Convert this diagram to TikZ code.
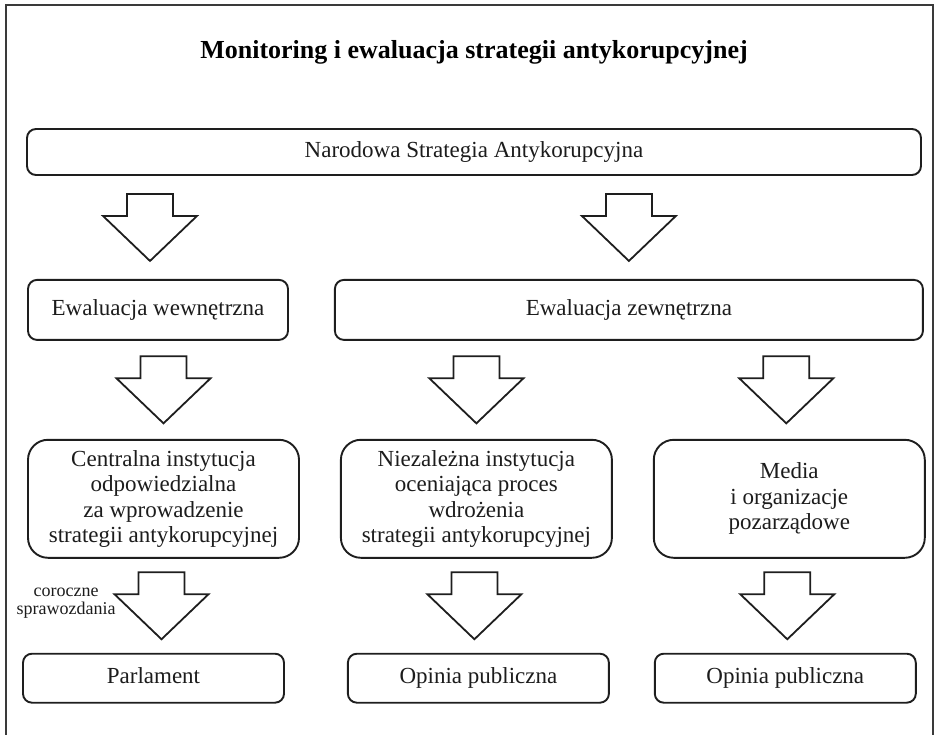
\documentclass[tikz,border=0pt]{standalone}
\usepackage{fontspec}
\setmainfont{Liberation Serif}
\usepackage{tikz}
\usetikzlibrary{positioning,calc}
\definecolor{ink}{HTML}{1C1C1C}
\definecolor{edge}{HTML}{1E1E1E}
\definecolor{framec}{HTML}{3A3A3A}
\tikzset{
  box/.style={draw=edge,fill=white,rounded corners=9pt,line width=1.9pt,align=center,
    font=\fontsize{23}{25.5}\selectfont,text=ink,inner sep=2pt},
  onebox/.style={box,text height=16pt,text depth=5pt},
  bigbox/.style={box,rounded corners=20pt},
  lbl/.style={font=\fontsize{18}{18}\selectfont,text=ink,align=center},
  ttl/.style={font=\fontsize{26}{28}\selectfont\bfseries,text=black},
  barrow/.style={draw=edge,fill=white,line width=1.8pt,line join=miter},
  frame/.style={draw=framec,line width=2.6pt},
  blockarrow/.pic={\draw[barrow] (-23,-33.5) -- (23,-33.5) -- (23,-11.5) -- (47,-11.5)
    -- (0,33.5) -- (-47,-11.5) -- (-23,-11.5) -- cycle;}
}
\begin{document}
\begin{tikzpicture}[x=1pt,y=-1pt]
  \useasboundingbox (0,0) rectangle (935,735);
  \draw[frame] (6,745) -- (6,5) -- (933,5) -- (933,745);
  \node[ttl,anchor=base] (title) at (474,59) {Monitoring i ewaluacja strategii antykorupcyjnej};
  \node[onebox,minimum width=894pt,minimum height=46pt] (nsa) at (474,152) {Narodowa Strategia Antykorupcyjna};
  \node[onebox,minimum width=260pt,minimum height=60pt,below right=103pt and 1pt of nsa.south west] (eww) {Ewaluacja wewnętrzna};
  \node[onebox,minimum width=588pt,minimum height=60pt,right=45pt of eww] (ewz) {Ewaluacja zewnętrzna};
  \node[bigbox,minimum width=271pt,minimum height=118pt,below right=98pt and 0pt of eww.south west] (cen)
    {Centralna instytucja\\odpowiedzialna\\za wprowadzenie\\strategii antykorupcyjnej};
  \node[bigbox,minimum width=271pt,minimum height=118pt,right=40pt of cen] (nie)
    {Niezależna instytucja\\oceniająca proces\\wdrożenia\\strategii antykorupcyjnej};
  \node[bigbox,minimum width=271pt,minimum height=118pt,right=40pt of nie] (med)
    {Media\\i organizacje\\pozarządowe};
  \node[onebox,minimum width=261pt,minimum height=49pt,below right=94pt and -5pt of cen.south west] (par) {Parlament};
  \node[onebox,minimum width=261pt,minimum height=49pt,right=62pt of par] (opn) {Opinia publiczna};
  \node[onebox,minimum width=261pt,minimum height=49pt,right=44pt of opn] (opm) {Opinia publiczna};
  \foreach \s/\d/\dx in {nsa/eww/-8,nsa/ewz/0,eww/cen/0,ewz/nie/0,ewz/med/-3}
    \pic at ($(\d.north)!.5!(\d.north |- \s.south)+(\dx,0)$) {blockarrow};
  \foreach \s/\d in {cen/par,nie/opn,med/opm}
    \pic at ($(\s.south)!.5!(\s.south |- \d.north)+(-2,0)$) {blockarrow};
  \node[lbl] (rep) at ($(cen.south west)+(39,44)$) {coroczne\\sprawozdania};
\end{tikzpicture}
\end{document}
